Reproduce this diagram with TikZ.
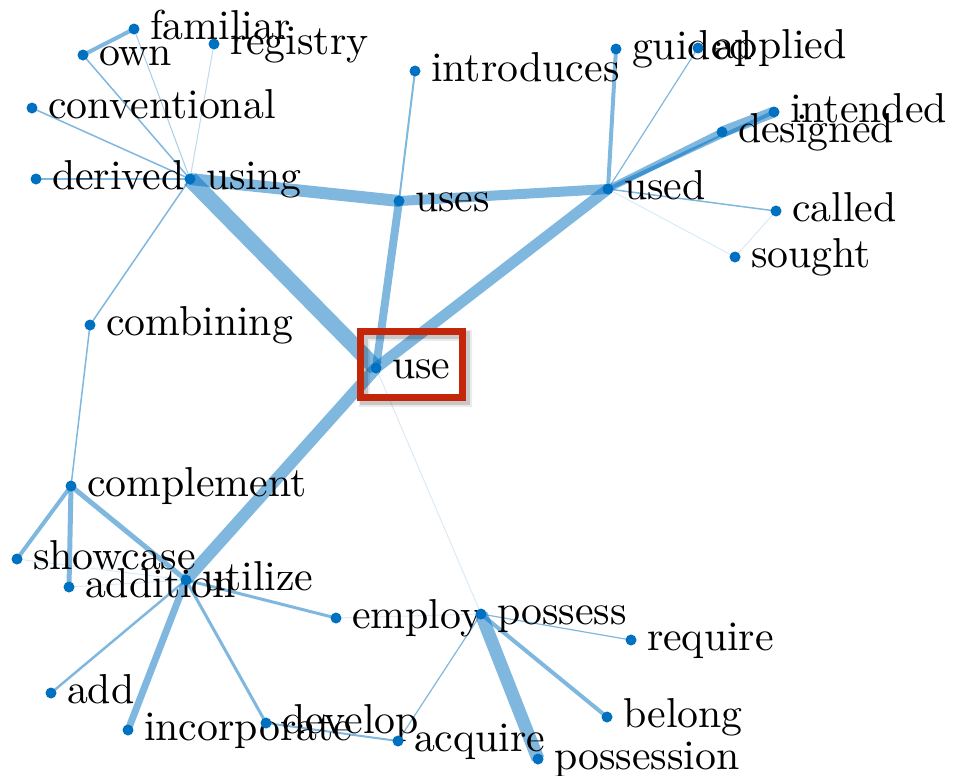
\documentclass[tikz,border=0pt]{standalone}
\usepackage{fontspec}
\setmainfont{lmroman10-regular.otf}
\usetikzlibrary{calc}
\definecolor{nodeblue}{RGB}{0,112,192}
\definecolor{boxred}{RGB}{196,38,10}
\begin{document}
\begin{tikzpicture}[x=0.02cm,y=-0.02cm,
  lw/.style={line width=#1*0.5691pt},
  edge/.style={draw=nodeblue, draw opacity=0.5, line cap=butt, lw=#1},
  faint/.style={draw=nodeblue, draw opacity=0.15, line cap=butt, lw=#1},
  lbl/.style={anchor=base west, inner sep=0pt, outer sep=0pt, text=black,
    font=\fontsize{23.8}{28}\selectfont},
  dotc/.style={fill=nodeblue},
  centerbox/.style={draw=boxred, lw=7.5, minimum width=2.04cm, minimum height=1.32cm, inner sep=0pt}
]
\useasboundingbox (0,0) rectangle (955,775);
\def\nodelist{familiar/134/29, own/83/55, registry/214/44, conventional/32/108,
  derived/36/179, using/190/179, combining/90/325, introduces/415/71,
  uses/399/201, guided/616/49, applied/698/48, intended/774/112,
  designed/722/132, used/608/189, called/776/211, sought/735/257,
  use/376/368, complement/71/486, showcase/17/559, addition/69/587,
  utilize/186/580, employ/336/618, possess/481/614, require/631/640,
  add/51/693, incorporate/128/730, develop/266/723, acquire/398/741,
  belong/607/717, possession/538/759}
\foreach \n/\x/\y in \nodelist { \coordinate (\n) at (\x,\y); }
% edges
\draw[edge=16] (using) -- (use);
\draw[edge=12] (using) -- (uses);
\draw[edge=10] (uses) -- (used);
\draw[edge=8] (uses) -- (use);
\draw[edge=11] (used) -- (use);
\draw[edge=12] (use) -- (utilize);
\draw[edge=7] (used) -- (designed);
\draw[edge=4] (used) -- (intended);
\draw[edge=11] (designed) -- (intended);
\draw[edge=4] (used) -- (guided);
\draw[edge=1.2] (used) -- (applied);
\draw[edge=1.5] (used) -- (called);
\draw[faint=1] (used) -- (sought);
\draw[faint=1] (called) -- (sought);
\draw[edge=2] (introduces) -- (uses);
\draw[edge=1.5] (using) -- (derived);
\draw[edge=1.5] (using) -- (conventional);
\draw[edge=1.5] (using) -- (own);
\draw[edge=1, draw opacity=0.35] (using) -- (familiar);
\draw[edge=1, draw opacity=0.25] (using) -- (registry);
\draw[edge=4] (own) -- (familiar);
\draw[edge=1.5] (using) -- (combining);
\draw[edge=1.5] (combining) -- (complement);
\draw[edge=4] (complement) -- (showcase);
\draw[edge=5] (complement) -- (addition);
\draw[edge=5] (complement) -- (utilize);
\draw[faint=1] (showcase) -- (utilize);
\draw[faint=1] (addition) -- (utilize);
\draw[edge=2.5] (utilize) -- (add);
\draw[edge=7] (utilize) -- (incorporate);
\draw[edge=3] (utilize) -- (develop);
\draw[edge=3] (utilize) -- (employ);
\draw[faint=1] (employ) -- (possess);
\draw[edge=2] (develop) -- (acquire);
\draw[edge=1.2] (acquire) -- (possess);
\draw[edge=13] (possess) -- (possession);
\draw[edge=4] (possess) -- (belong);
\draw[edge=1.2] (possess) -- (require);
\draw[faint=1] (use) -- (possess);
% highlighted box with shadow
\draw[black, draw opacity=0.08, lw=11] (364.5,335.5) rectangle (466.5,401.5);
\draw[black, draw opacity=0.15, lw=8] (363.5,334.5) rectangle (465.5,400.5);
\node[centerbox] (usebox) at (411.5,364.5) {};
% labels
\foreach \n/\x/\y in \nodelist { \node[lbl] (\n-t) at (\x+16,\y+10) {\n}; }
% dots
\foreach \n/\x/\y in \nodelist { \fill[dotc] (\n) circle[radius=0.11cm]; }
\end{tikzpicture}
\end{document}
